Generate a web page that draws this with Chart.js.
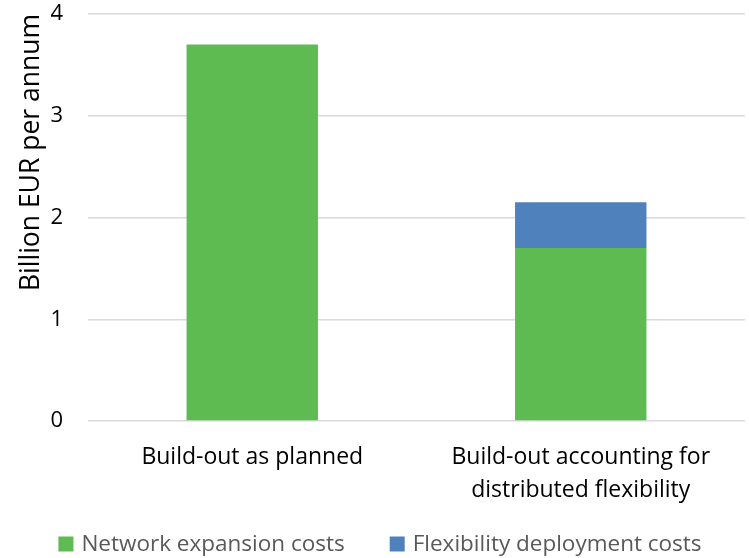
<!DOCTYPE html>
<html>
<head>
<meta charset="utf-8">
<script src="https://cdn.jsdelivr.net/npm/chart.js@4.4.0/dist/chart.umd.min.js"></script>
<style>
  html, body { margin: 0; padding: 0; background: #fff; }
  #wrap { width: 749px; height: 558px; position: relative; }
</style>
</head>
<body>
<div id="wrap"><canvas id="costChart"></canvas></div>
<script>
// === DATA ===
const categories = [
  "Build-out as planned",
  ["Build-out accounting for", "distributed flexibility"],
];
const networkExpansion = [3.7, 1.7];
const flexibilityDeployment = [0, 0.45];
const yTicks = [0, 1, 2, 3, 4];

const FONT = "'Open Sans', 'Noto Sans', sans-serif";

// === BOTTOM LEGEND (drawn by hand so spacing matches the original) ===
const bottomLegend = {
  id: "bottomLegend",
  afterDraw(chart) {
    const c = chart.ctx;
    const box = 15, gapText = 8, gapItem = 45;
    c.save();
    c.font = `22.5px ${FONT}`;
    c.textBaseline = "middle";
    const items = chart.data.datasets.map((ds) => ({
      text: ds.label,
      color: ds.backgroundColor,
      w: box + gapText + c.measureText(ds.label).width,
    }));
    const total = items.reduce((s, it) => s + it.w, 0) + gapItem * (items.length - 1);
    let x = 380 - total / 2;
    const y = 544;
    items.forEach((it) => {
      c.fillStyle = it.color;
      c.fillRect(x, y - box / 2, box, box);
      c.fillStyle = "#595959";
      c.fillText(it.text, x + box + gapText, y + 1);
      x += it.w + gapItem;
    });
    c.restore();
  },
};

const ctx = document.getElementById("costChart").getContext("2d");

new Chart(ctx, {
  type: "bar",
  data: {
    labels: categories,
    datasets: [
      {
        label: "Network expansion costs",
        data: networkExpansion,
        backgroundColor: "#5EBB52",
        barPercentage: 0.8,
        categoryPercentage: 0.5,
      },
      {
        label: "Flexibility deployment costs",
        data: flexibilityDeployment,
        backgroundColor: "#4F81BD",
        barPercentage: 0.8,
        categoryPercentage: 0.5,
      },
    ],
  },
  options: {
    responsive: true,
    maintainAspectRatio: false,
    animation: false,
    layout: { padding: { top: 14, right: 4, left: 16, bottom: 49 } },
    plugins: {
      legend: { display: false },
      tooltip: { enabled: false },
    },
    scales: {
      x: {
        stacked: true,
        grid: { display: false, drawTicks: false },
        border: { display: false },
        ticks: {
          color: "#000",
          font: { family: FONT, size: 23, lineHeight: 1.43 },
          padding: 20,
          maxRotation: 0,
        },
        afterFit: (axis) => {
          axis.height = 88;
          axis.paddingLeft = 0;
          axis.paddingRight = 0;
        },
      },
      y: {
        stacked: true,
        min: 0,
        max: 4,
        afterBuildTicks: (axis) => { axis.ticks = yTicks.map((v) => ({ value: v })); },
        grid: { color: "#D9D9D9", lineWidth: 1.5, drawTicks: false },
        border: { display: false },
        ticks: { color: "#000", font: { family: FONT, size: 22 }, padding: 25 },
        title: {
          display: true,
          text: "Billion EUR per annum",
          color: "#000",
          font: { family: FONT, size: 26.5 },
          align: "end",
          padding: 0,
        },
        afterFit: (axis) => {
          axis.width = 72;
          axis.paddingTop = 0;
          axis.paddingBottom = 0;
        },
      },
    },
  },
  plugins: [bottomLegend],
});
</script>
</body>
</html>
